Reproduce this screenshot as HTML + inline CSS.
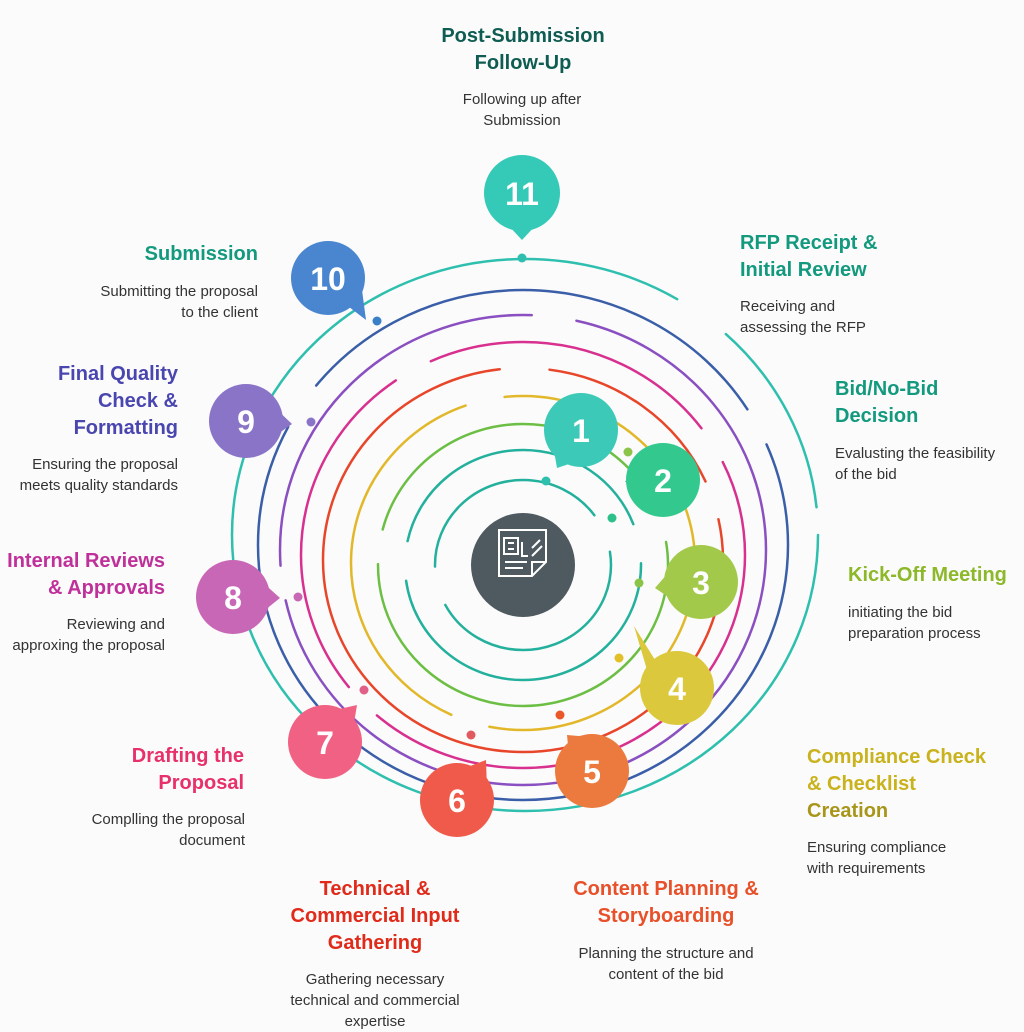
<!DOCTYPE html>
<html><head><meta charset="utf-8"><style>
html,body{margin:0;padding:0;background:#fbfbfb;}
body{width:1024px;height:1024px;position:relative;overflow:hidden;font-family:"Liberation Sans",sans-serif;}
.t{position:absolute;font-size:20px;font-weight:bold;line-height:27px;}
.d{position:absolute;font-size:15px;line-height:21px;color:#333;}
.r{text-align:right}.c{text-align:center}
svg{position:absolute;left:0;top:0}
</style></head><body>
<svg width="1024" height="1024" viewBox="0 0 1024 1024">
<g fill="none" stroke-width="2.5" stroke-linecap="round">
<ellipse cx="525" cy="535" rx="293" ry="276" stroke="#2ebfae" stroke-dasharray="1500 60 200 40"/>
<ellipse cx="523" cy="545" rx="265" ry="255" stroke="#3a5fa8" stroke-dasharray="600 40 300 50 500 40"/>
<ellipse cx="523" cy="550" rx="243" ry="235" stroke="#8a4fc0" stroke-dasharray="700 35 400 45"/>
<ellipse cx="523" cy="555" rx="222" ry="213" stroke="#d8308f" stroke-dasharray="500 40 350 40 300 40"/>
<ellipse cx="523" cy="560" rx="200" ry="192" stroke="#e8462a" stroke-dasharray="900 50 200 40"/>
<ellipse cx="523" cy="563" rx="172" ry="167" stroke="#e2b82a" stroke-dasharray="300 40 400 40 300 30"/>
<ellipse cx="523" cy="565" rx="145" ry="141" stroke="#6cbf44" stroke-dasharray="450 35 350 40"/>
<ellipse cx="523" cy="565" rx="118" ry="115" stroke="#23b09c" stroke-dasharray="350 40 300 40"/>
<ellipse cx="523" cy="565" rx="88" ry="85" stroke="#23b09c" stroke-dasharray="230 40 220 40"/>
</g>
<g>
<circle cx="522" cy="258" r="4.5" fill="#2ebfae"/>
<circle cx="377" cy="321" r="4.5" fill="#3a80c8"/>
<circle cx="311" cy="422" r="4.5" fill="#8a74c8"/>
<circle cx="298" cy="597" r="4.5" fill="#c867b6"/>
<circle cx="364" cy="690" r="4.5" fill="#e0608a"/>
<circle cx="471" cy="735" r="4.5" fill="#e05a60"/>
<circle cx="560" cy="715" r="4.5" fill="#e8582a"/>
<circle cx="619" cy="658" r="4.5" fill="#e2c02a"/>
<circle cx="639" cy="583" r="4.5" fill="#8cc44a"/>
<circle cx="612" cy="518" r="4.5" fill="#2ec08a"/>
<circle cx="546" cy="481" r="4.5" fill="#2ebfae"/>
<circle cx="628" cy="452" r="4.5" fill="#8cc44a"/>
</g>
<g font-family="Liberation Sans" font-weight="bold" font-size="32" fill="#fff" text-anchor="middle">
<g fill="#35c9b8"><circle cx="522" cy="193" r="38"/><polygon points="508,225 536,225 522,240"/></g><text x="522" y="205">11</text>
<g fill="#4a86d0"><circle cx="328" cy="278" r="37"/><polygon points="340,300 362,290 366,320"/></g><text x="328" y="290">10</text>
<g fill="#8a74c8"><circle cx="246" cy="421" r="37"/><polygon points="272,405 292,424 272,438"/></g><text x="246" y="433">9</text>
<g fill="#c867b6"><circle cx="233" cy="597" r="37"/><polygon points="260,580 280,598 260,614"/></g><text x="233" y="609">8</text>
<g fill="#f06183"><circle cx="325" cy="742" r="37"/><polygon points="335,710 357,705 352,735"/></g><text x="325" y="754">7</text>
<g fill="#ef5a4a"><circle cx="457" cy="800" r="37"/><polygon points="465,768 486,760 487,790"/></g><text x="457" y="812">6</text>
<g fill="#ec7a3e"><circle cx="592" cy="771" r="37"/><polygon points="567,735 590,737 570,765"/></g><text x="592" y="783">5</text>
<g fill="#dcc83c"><circle cx="677" cy="688" r="37"/><polygon points="634,626 660,668 650,680" /></g><text x="677" y="700">4</text>
<g fill="#a3c94a"><circle cx="701" cy="582" r="37"/><polygon points="655,588 675,565 680,605"/></g><text x="701" y="594">3</text>
<g fill="#33c98e"><circle cx="663" cy="480" r="37"/><polygon points="625,482 645,450 660,485"/></g><text x="663" y="492">2</text>
<g fill="#3cc9b8"><circle cx="581" cy="430" r="37"/><polygon points="553,445 575,462 557,468"/></g><text x="581" y="442">1</text>
</g>
<circle cx="523" cy="565" r="52" fill="#4f5a60"/>
<g fill="none" stroke="#fff" stroke-width="2">
<path d="M499 530 h47 v32 l-14 14 h-33 z"/><path d="M532 576 v-14 h14"/>
<rect x="504" y="538" width="14" height="16"/><path d="M508 543 h6 M508 549 h6"/>
<path d="M522 542 v14 h6 M532 548 l8 -8 M532 556 l10 -10"/>
<path d="M505 562 h22 M505 568 h18"/>
</g>
</svg>
<div class="t c" style="left:400px;top:23px;width:246px;color:#0f5c52">Post-Submission<br>Follow-Up</div>
<div class="d c" style="left:420px;top:89px;width:204px">Following up after<br>Submission</div>
<div class="t" style="left:740px;top:230px;color:#139a7e">RFP Receipt &amp;<br>Initial Review</div>
<div class="d" style="left:740px;top:296px">Receiving and<br>assessing the RFP</div>
<div class="t" style="left:835px;top:376px;color:#139a7e">Bid/No-Bid<br>Decision</div>
<div class="d" style="left:835px;top:443px">Evalusting the feasibility<br>of the bid</div>
<div class="t" style="left:848px;top:562px;color:#8cb82a">Kick-Off Meeting</div>
<div class="d" style="left:848px;top:602px">initiating the bid<br>preparation process</div>
<div class="t" style="left:807px;top:744px;color:#c9b21c">Compliance Check<br>&amp; Checklist<br><span style="color:#a8961a">Creation</span></div>
<div class="d" style="left:807px;top:837px">Ensuring compliance<br>with requirements</div>
<div class="t c" style="left:556px;top:876px;width:220px;color:#e8502a">Content Planning &amp;<br>Storyboarding</div>
<div class="d c" style="left:556px;top:943px;width:220px">Planning the structure and<br>content of the bid</div>
<div class="t c" style="left:270px;top:876px;width:210px;color:#e02a1a">Technical &amp;<br>Commercial Input<br>Gathering</div>
<div class="d c" style="left:270px;top:969px;width:210px">Gathering necessary<br>technical and commercial<br>expertise</div>
<div class="t r" style="left:40px;top:743px;width:204px;color:#e8306a">Drafting the<br>Proposal</div>
<div class="d r" style="left:40px;top:809px;width:205px">Complling the proposal<br>document</div>
<div class="t r" style="left:-40px;top:548px;width:205px;color:#c0309a">Internal Reviews<br>&amp; Approvals</div>
<div class="d r" style="left:-40px;top:614px;width:205px">Reviewing and<br>approxing the proposal</div>
<div class="t r" style="left:-30px;top:361px;width:208px;color:#4a46b0">Final Quality<br>Check &amp;<br>Formatting</div>
<div class="d r" style="left:-30px;top:454px;width:208px">Ensuring the proposal<br>meets quality standards</div>
<div class="t r" style="left:50px;top:241px;width:208px;color:#139a7e">Submission</div>
<div class="d r" style="left:50px;top:281px;width:208px">Submitting the proposal<br>to the client</div>
</body></html>
